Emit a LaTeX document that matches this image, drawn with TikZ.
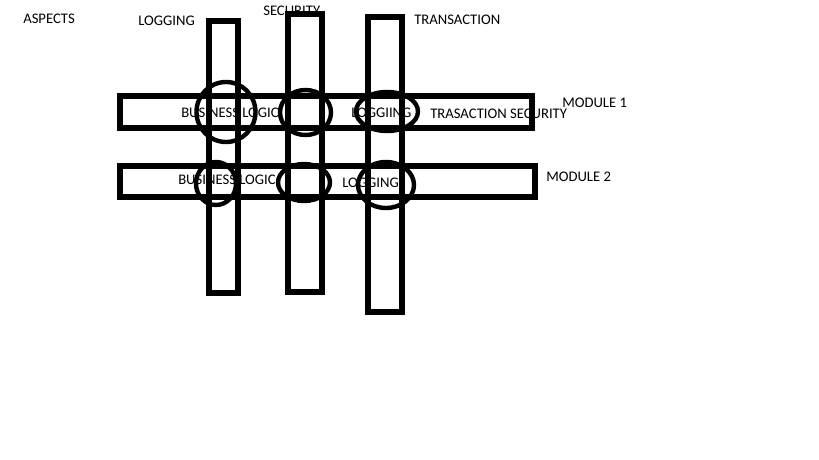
\documentclass[tikz,border=0pt]{standalone}
\usepackage{fontspec}
\setmainfont{Carlito}
\begin{document}
\begin{tikzpicture}[x=0.75pt,y=-0.75pt,
  bar/.style={draw=black,line width=4pt},
  ring/.style={draw=black,line width=3.3pt},
  lbl/.style={anchor=base west,inner sep=0pt,text=black,font=\fontsize{11}{13}\selectfont}]
\useasboundingbox[fill=white] (0,0) rectangle (819,460);
% labels
\node[lbl] (aspects) at (23,24) {ASPECTS};
\node[lbl] (logtop) at (138,26) {LOGGING};
\node[lbl] (sectop) at (263,16) {SECURITY};
\node[lbl] (trantop) at (414,25) {TRANSACTION};
\node[lbl] (mod1) at (562,108) {MODULE 1};
\node[lbl] (mod2) at (546,181) {MODULE 2};
\node[lbl] (bl1) at (181,118) {BUSINESS LOGIC};
\node[lbl] (lg1) at (351,118) {LOGGIING};
\node[lbl] (ts1) at (430,119) {TRASACTION SECURITY};
\node[lbl] (bl2) at (178,185) {BUSINESS LOGIC};
\node[lbl] (lg2) at (342,188) {LOGGING};
% module bars
\draw[bar] (120,96) rectangle (532,128);
\draw[bar] (120,166) rectangle (535,197);
% aspect bars
\draw[bar] (209,21) rectangle (238,293);
\draw[bar] (288,14) rectangle (322,292);
\draw[bar] (368,17) rectangle (402,312);
% join points
\draw[ring] (226,112) ellipse [x radius=29.5, y radius=30];
\draw[ring] (305.5,112.5) ellipse [x radius=25.5, y radius=22.5];
\draw[ring] (387,111.5) ellipse [x radius=31, y radius=19.5];
\draw[ring] (216,183.5) ellipse [x radius=20, y radius=21.5];
\draw[ring] (304,182.5) ellipse [x radius=26, y radius=18.5];
\draw[ring] (386,185) ellipse [x radius=28, y radius=23];
\end{tikzpicture}
\end{document}
